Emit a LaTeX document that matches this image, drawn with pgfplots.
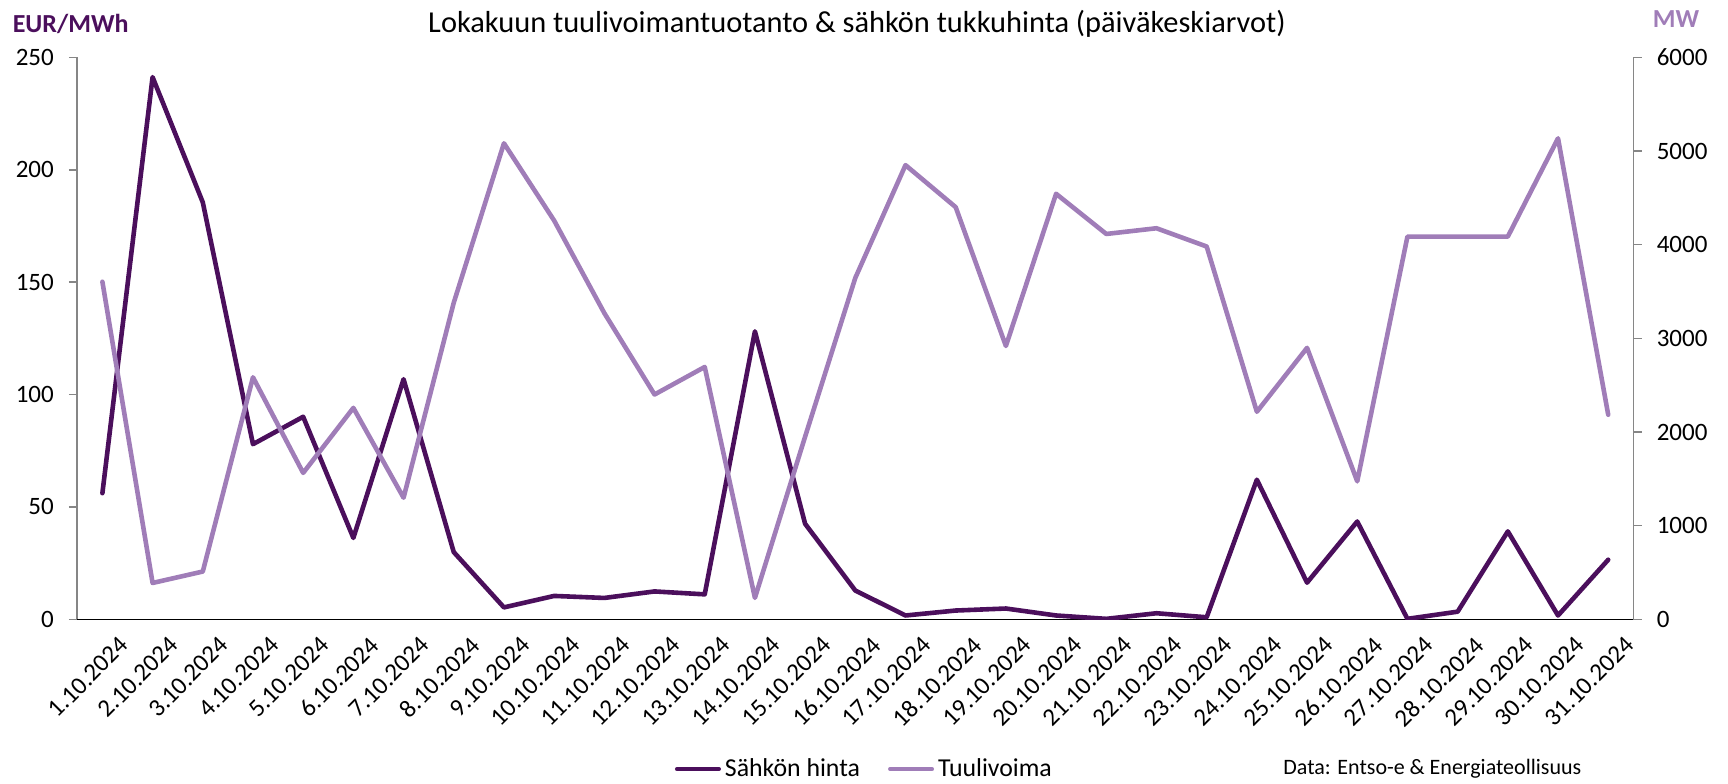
\documentclass[border=0pt]{standalone}
\usepackage{fontspec}
\setmainfont{Carlito}
\usepackage{pgfplots}
\usepackage{pgfplotstable}
\pgfplotsset{compat=1.18}

\definecolor{hinta}{HTML}{4B0F5C}
\definecolor{tuuli}{HTML}{A07DB8}
\definecolor{axgray}{HTML}{868686}

% daily averages, October 2024
\pgfplotstableread{
x date hinta tuuli
0 1.10.2024 56.1 3604
1 2.10.2024 241.2 388
2 3.10.2024 185.5 510
3 4.10.2024 77.9 2584
4 5.10.2024 90.1 1563
5 6.10.2024 36.2 2257
6 7.10.2024 106.8 1298
7 8.10.2024 29.9 3380
8 9.10.2024 5.3 5082
9 10.10.2024 10.4 4257
10 11.10.2024 9.5 3269
11 12.10.2024 12.4 2400
12 13.10.2024 11.1 2694
13 14.10.2024 128.1 229
14 15.10.2024 42.5 1950
15 16.10.2024 12.8 3645
16 17.10.2024 1.7 4849
17 18.10.2024 3.9 4400
18 19.10.2024 4.8 2918
19 20.10.2024 1.7 4543
20 21.10.2024 0.2 4114
21 22.10.2024 2.7 4175
22 23.10.2024 0.9 3980
23 24.10.2024 62.1 2216
24 25.10.2024 16.3 2898
25 26.10.2024 43.5 1473
26 27.10.2024 0.2 4086
27 28.10.2024 3.4 4086
28 29.10.2024 39.1 4086
29 30.10.2024 1.7 5135
30 31.10.2024 26.5 2184
}\data

\pgfplotsset{
  base/.style={
    scale only axis, width=778pt, height=281pt,
    at={(38.65pt,81.85pt)}, anchor=south west,
    xmin=-0.5, xmax=30.5,
    /pgf/number format/assume math mode=true,
    /pgf/number format/1000 sep={},
    scaled ticks=false,
    tick label style={font=\fontsize{12.5}{15}\selectfont},
    tick align=outside,
    major tick length=4.2pt, minor tick length=4.2pt,
    every tick/.style={axgray, line width=0.8pt},
    line/.style={line width=2.3pt, line join=round, line cap=round},
  },
}

\begin{document}
\begin{tikzpicture}
\useasboundingbox (0,0) rectangle (864pt,391.5pt);

\begin{axis}[base,
    axis y line*=left, axis x line*=bottom,
    x axis line style={black, line width=0.8pt, -},
    y axis line style={axgray, line width=0.8pt, -},
    ymin=0, ymax=250, ytick={0,50,...,250},
    yticklabel style={xshift=-4pt},
    xtick={0,...,30}, xticklabels from table={\data}{date},
    minor xtick={-0.5,0.5,...,30.5},
    x tick style={draw=none},
    minor x tick style={axgray, line width=0.8pt},
    xticklabel style={rotate=45, anchor=north east, inner sep=1pt, xshift=4pt, yshift=-7pt},
  ]
  \addplot[hinta, line] table[x=x, y=hinta] {\data};
\end{axis}

\begin{axis}[base,
    axis y line*=right, axis x line=none,
    y axis line style={axgray, line width=0.8pt, -},
    ymin=0, ymax=6000, ytick={0,1000,...,6000},
    yticklabel style={xshift=4pt},
    legend columns=2,
    legend style={at={(0.5065,-0.2664)}, anchor=center, draw=none, fill=none,
      font=\fontsize{12.9}{15}\selectfont,
      /tikz/every even column/.style={column sep=12pt}},
    legend image code/.code={\draw[#1, line width=2pt, line cap=round] (0pt,0pt) -- (21pt,0pt);},
  ]
  \addlegendimage{hinta}
  \addlegendentry{Sähkön hinta}
  \addplot[tuuli, line] table[x=x, y=tuuli] {\data};
  \addlegendentry{Tuulivoima}
\end{axis}

\node[font=\fontsize{15.2}{17}\selectfont] at (428.5pt,379.5pt)
  {Lokakuun tuulivoimantuotanto \& sähkön tukkuhinta (päiväkeskiarvot)};
\node[font=\fontsize{13}{15}\selectfont\bfseries, text=hinta, anchor=west, inner sep=0pt] at (6.2pt,379.5pt) {EUR/MWh};
\node[font=\fontsize{13}{15}\selectfont\bfseries, text=tuuli] at (838pt,382pt) {MW};
\node[font=\fontsize{11}{13}\selectfont, anchor=west, inner sep=0pt] at (641.5pt,7pt) {Data: Entso-e \& Energiateollisuus};
\end{tikzpicture}
\end{document}
